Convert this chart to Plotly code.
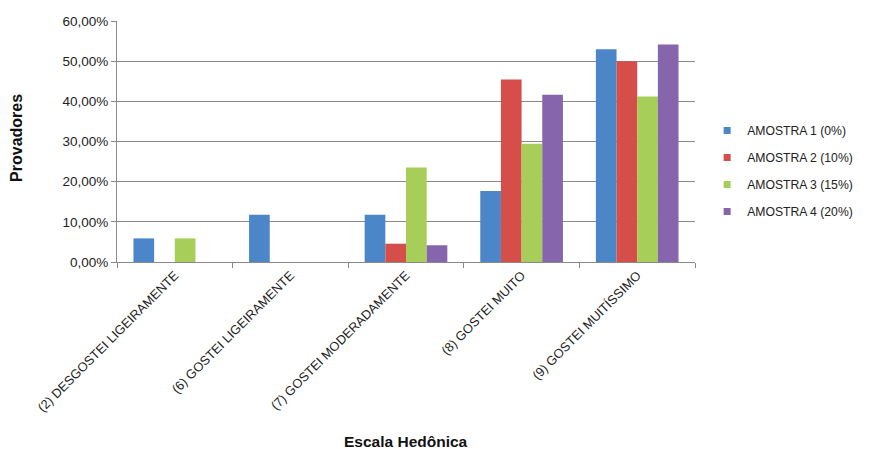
import plotly.graph_objects as go

categories = ["(2) DESGOSTEI LIGEIRAMENTE", "(6) GOSTEI LIGEIRAMENTE",
              "(7) GOSTEI MODERADAMENTE", "(8) GOSTEI MUITO", "(9) GOSTEI MUITÍSSIMO"]
series_names = ["AMOSTRA 1 (0%)", "AMOSTRA 2 (10%)", "AMOSTRA 3 (15%)", "AMOSTRA 4 (20%)"]
amostra1 = [5.88, 11.76, 11.76, 17.65, 52.94]
amostra2 = [0, 0, 4.55, 45.45, 50.00]
amostra3 = [5.88, 0, 23.53, 29.41, 41.18]
amostra4 = [0, 0, 4.17, 41.67, 54.17]
colors = ["#4A86C8", "#D54E4A", "#A8CE5A", "#8665AC"]
ytick_vals = [0, 10, 20, 30, 40, 50, 60]
ytick_text = ["0,00%", "10,00%", "20,00%", "30,00%", "40,00%", "50,00%", "60,00%"]

fig = go.Figure()
for i, (name, vals) in enumerate(zip(series_names, [amostra1, amostra2, amostra3, amostra4])):
    fig.add_trace(go.Bar(x=categories, y=vals, name=name, marker_color=colors[i],
                         marker_line_width=0, showlegend=False))
# legend-only entries with small square markers
for i, name in enumerate(series_names):
    fig.add_trace(go.Scatter(x=[None], y=[None], mode="markers", name=name,
                             marker=dict(symbol="square", size=7, color=colors[i]),
                             legendgroup=f"g{i}"))

fig.update_layout(
    width=872, height=449,
    margin=dict(l=117, r=177, t=21, b=187, autoexpand=False),
    paper_bgcolor="white", plot_bgcolor="white",
    font=dict(family="Liberation Sans, Arial", size=12, color="#222"),
    barmode="group", bargap=0.285, bargroupgap=0,
    showlegend=True,
    legend=dict(x=1.021, y=0.378, xanchor="left", yanchor="middle",
                font=dict(size=12.2, color="#222"), tracegroupgap=8,
                itemwidth=30),
    xaxis=dict(tickangle=-45, tickfont=dict(size=12.8, color="#222"),
               showline=True, linecolor="#8a8a8a", linewidth=1,
               ticks="outside", ticklen=5, tickcolor="#8a8a8a",
               tickson="boundaries", showgrid=False),
    yaxis=dict(range=[0, 60], tickvals=ytick_vals, ticktext=ytick_text,
               showline=True, linecolor="#8a8a8a", linewidth=1,
               ticks="outside", ticklen=5, tickcolor="#8a8a8a",
               showgrid=True, gridcolor="#8a8a8a", gridwidth=1,
               zeroline=False, tickfont=dict(size=13.5, color="#222")),
    annotations=[
        dict(text="<b>Provadores</b>", x=-0.173, y=0.515, xref="paper", yref="paper",
             textangle=-90, showarrow=False, font=dict(size=16, color="#111"),
             xanchor="center", yanchor="middle"),
        dict(text="<b>Escala Hedônica</b>", x=0.5, y=-0.70, xref="paper", yref="paper",
             showarrow=False, font=dict(size=15.5, color="#111"),
             xanchor="center", yanchor="top"),
    ],
)

fig.write_html("out.html")
